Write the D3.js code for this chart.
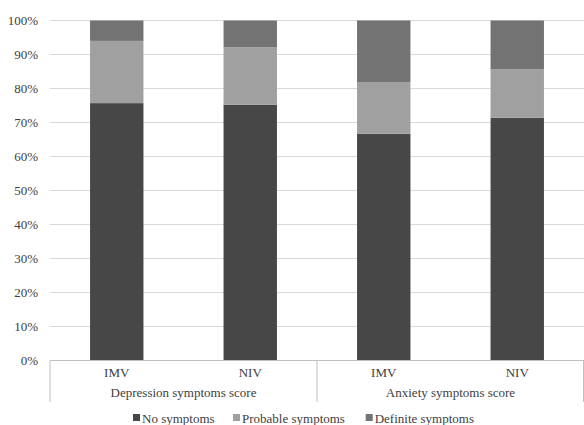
<!DOCTYPE html>
<html><head><meta charset="utf-8">
<script src="https://cdn.jsdelivr.net/npm/d3@7"></script>
<style>body{margin:0;background:#fff}svg{display:block}</style>
</head><body><svg id="c" width="584" height="425"></svg>
<script>
const groups = ["Depression symptoms score", "Anxiety symptoms score"];
const categories = ["IMV", "NIV", "IMV", "NIV"];
const seriesNames = ["No symptoms", "Probable symptoms", "Definite symptoms"];
const noSymptoms = [75.7, 75.2, 66.7, 71.4];
const probable = [18.3, 16.9, 15.2, 14.3];
const definite = [6.0, 7.9, 18.1, 14.3];
const colors = ["#474747", "#a0a0a0", "#737373"];
const yTicks = [0,10,20,30,40,50,60,70,80,90,100];

const FONT = '"Liberation Serif"';
const FS = 13;
const TXT = "#404040";
const svg = d3.select("#c");
const L = 50, R = 584, T = 20.5, B = 360.5;
const x = d3.scaleBand().domain(d3.range(categories.length)).range([L, R]).paddingInner(0.6).paddingOuter(0.3);
const y = d3.scaleLinear().domain([0, 100]).range([B, T]);

// gridlines
svg.append("g").selectAll("line").data(yTicks.filter(d => d > 0)).join("line")
  .attr("x1", L).attr("x2", R).attr("y1", d => y(d)).attr("y2", d => y(d))
  .attr("stroke", "#d9d9d9").attr("stroke-width", 1);

// y axis labels
const yAxis = d3.axisLeft(y).tickValues(yTicks).tickFormat(d => d + "%").tickSize(0).tickPadding(12);
const ya = svg.append("g").attr("transform", `translate(${L},0)`).call(yAxis);
ya.select(".domain").remove();
ya.attr("font-family", null).attr("font-size", null);
ya.selectAll("text").style("font-family", FONT).style("font-size", FS + "px").attr("fill", TXT);

// stacked bars
const rows = categories.map((c, i) => ({i, no: noSymptoms[i], prob: probable[i], def: definite[i]}));
const stack = d3.stack().keys(["no", "prob", "def"])(rows);
svg.append("g").selectAll("g").data(stack).join("g").attr("fill", (d, k) => colors[k])
  .selectAll("rect").data(d => d).join("rect")
  .attr("x", d => x(d.data.i)).attr("width", x.bandwidth())
  .attr("y", d => y(d[1])).attr("height", d => y(d[0]) - y(d[1]));

// category axis
const axisBottom = 402;
const ax = svg.append("g").attr("stroke", "#bfbfbf").attr("stroke-width", 1);
ax.append("line").attr("x1", L).attr("x2", R).attr("y1", B).attr("y2", B);
const gx = d3.scaleLinear().domain([0, groups.length]).range([L, R]);
d3.range(groups.length + 1).forEach(g => {
  const xx = Math.min(gx(g), R - 0.5);
  ax.append("line").attr("x1", xx).attr("x2", xx).attr("y1", B).attr("y2", axisBottom);
});

svg.append("g").selectAll("text").data(categories).join("text")
  .attr("x", (d, i) => x(i) + x.bandwidth() / 2).attr("y", 377)
  .attr("text-anchor", "middle").style("font-family", FONT).style("font-size", FS + "px").attr("fill", TXT).text(d => d);

svg.append("g").selectAll("text").data(groups).join("text")
  .attr("x", (d, g) => (gx(g) + gx(g + 1)) / 2).attr("y", 397)
  .attr("text-anchor", "middle").style("font-family", FONT).style("font-size", FS + "px").attr("fill", TXT).text(d => d);

// legend
const legendX = [133, 233, 365.7];
const lg = svg.append("g").selectAll("g").data(seriesNames).join("g")
  .attr("transform", (d, i) => `translate(${legendX[i]},0)`);
lg.append("rect").attr("x", 0).attr("y", 414).attr("width", 7).attr("height", 7).attr("fill", (d, i) => colors[i]);
lg.append("text").attr("x", 9).attr("y", 423).style("font-family", FONT).style("font-size", FS + "px").attr("fill", TXT).text(d => d);
</script></body></html>
